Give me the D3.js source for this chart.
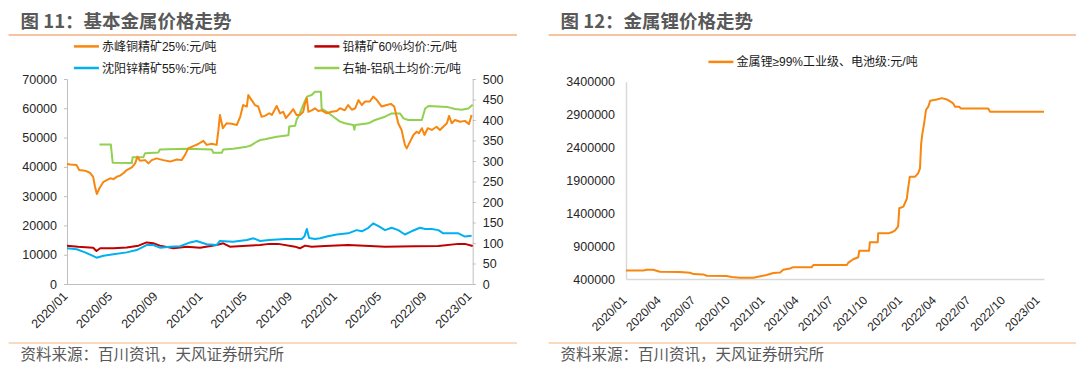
<!DOCTYPE html>
<html><head><meta charset="utf-8">
<script src="https://cdn.jsdelivr.net/npm/d3@7"></script>
<style>
html,body{margin:0;padding:0;background:#fff;}
svg{display:block;}
</style></head>
<body>
<svg id="c" width="1080" height="371"></svg>
<script>
// ---------------- DATA ----------------
const titleLeft = "图 11：基本金属价格走势";
const titleRight = "图 12：金属锂价格走势";
const sourceText = "资料来源：百川资讯，天风证券研究所";

const seriesNames = ["赤峰铜精矿25%:元/吨", "铅精矿60%均价:元/吨", "沈阳锌精矿55%:元/吨", "右轴-铝矾土均价:元/吨"];
const lithiumName = "金属锂≥99%工业级、电池级:元/吨";

const leftTicks = [0,10000,20000,30000,40000,50000,60000,70000];
const rightTicks = [0,50,100,150,200,250,300,350,400,450,500];
const lithiumTicks = [400000,900000,1400000,1900000,2400000,2900000,3400000];
const xTicksLeft = ["2020-01-01","2020-05-01","2020-09-01","2021-01-01","2021-05-01","2021-09-01","2022-01-01","2022-05-01","2022-09-01","2023-01-01"];
const xTicksRight = ["2020-01-01","2020-04-01","2020-07-01","2020-10-01","2021-01-01","2021-04-01","2021-07-01","2021-10-01","2022-01-01","2022-04-01","2022-07-01","2022-10-01","2023-01-01"];

const copper = [
["2020-01-01",41000],["2020-01-10",40800],["2020-01-27",40600],["2020-02-03",38900],["2020-02-19",38700],
["2020-03-03",38000],["2020-03-12",36600],["2020-03-17",33200],["2020-03-22",30700],["2020-03-29",32700],
["2020-04-09",34900],["2020-04-18",35500],["2020-04-27",36100],["2020-05-06",35800],["2020-05-15",36600],
["2020-05-24",37000],["2020-06-02",37800],["2020-06-11",38900],["2020-06-25",39800],["2020-07-04",41200],
["2020-07-10",43500],["2020-07-17",42100],["2020-07-31",42300],["2020-08-09",41200],["2020-08-18",42300],
["2020-08-31",42900],["2020-09-18",42300],["2020-10-07",41800],["2020-10-25",42500],["2020-11-07",42300],
["2020-11-16",44000],["2020-11-25",46300],["2020-12-09",47100],["2020-12-22",47800],["2021-01-05",48900],
["2021-01-14",47500],["2021-01-28",47900],["2021-02-10",47500],["2021-02-15",52600],["2021-02-19",57700],
["2021-02-27",53200],["2021-03-09",54900],["2021-03-23",54700],["2021-04-06",54300],["2021-04-15",57100],
["2021-04-23",61100],["2021-05-03",60600],["2021-05-07",64500],["2021-05-16",62800],["2021-05-25",61100],
["2021-06-03",60600],["2021-06-12",57100],["2021-06-21",57400],["2021-07-03",58300],["2021-07-10",57700],
["2021-07-23",60800],["2021-08-01",58300],["2021-08-10",58800],["2021-08-17",56600],["2021-08-28",58300],
["2021-09-06",59700],["2021-09-15",57700],["2021-09-24",57700],["2021-10-03",58800],["2021-10-08",61700],
["2021-10-13",63400],["2021-10-17",58800],["2021-10-26",59300],["2021-11-04",60000],["2021-11-13",59100],
["2021-11-22",59300],["2021-12-06",58300],["2021-12-19",58800],["2022-01-02",59100],["2022-01-11",60000],
["2022-01-24",59300],["2022-02-02",61100],["2022-02-12",59500],["2022-02-21",60000],["2022-03-02",62800],
["2022-03-11",61100],["2022-03-20",62300],["2022-04-02",62300],["2022-04-11",64000],["2022-04-21",62800],
["2022-05-04",60600],["2022-05-18",61100],["2022-05-29",61500],["2022-06-07",60600],["2022-06-18",54900],
["2022-06-27",52600],["2022-07-06",47500],["2022-07-11",46300],["2022-07-20",48600],["2022-07-29",50900],
["2022-08-07",52000],["2022-08-13",51500],["2022-08-21",53200],["2022-08-28",50900],["2022-09-06",53200],
["2022-09-17",52600],["2022-09-30",53700],["2022-10-09",52600],["2022-10-18",53700],["2022-10-28",54900],
["2022-11-03",57400],["2022-11-10",54900],["2022-11-19",56000],["2022-12-03",55400],["2022-12-16",55700],
["2022-12-27",54600],["2023-01-03",57700]
];

const lead = [
["2020-01-01",13100],["2020-01-31",12750],["2020-03-12",12400],["2020-03-21",11270],["2020-03-31",12200],
["2020-05-06",12200],["2020-06-11",12500],["2020-07-13",13100],["2020-08-04",14200],["2020-08-22",13900],
["2020-09-09",13100],["2020-10-16",12200],["2020-11-21",12750],["2020-12-27",12400],["2021-02-10",13300],
["2021-02-28",13900],["2021-03-18",12750],["2021-05-03",13100],["2021-06-08",13300],["2021-07-03",13700],
["2021-07-27",13700],["2021-09-11",12750],["2021-09-24",12200],["2021-10-08",13100],["2021-10-26",12750],
["2021-12-01",13000],["2022-02-02",13300],["2022-04-02",13000],["2022-05-13",12750],["2022-08-02",12900],
["2022-10-05",13000],["2022-11-28",13700],["2022-12-16",13700],["2023-01-06",12950]
];

const zinc = [
["2020-01-01",12190],["2020-01-27",11850],["2020-02-19",10800],["2020-03-10",9670],["2020-03-21",8990],
["2020-04-09",9670],["2020-05-06",10130],["2020-06-11",10800],["2020-07-08",11600],["2020-08-04",13300],
["2020-08-22",13300],["2020-09-09",12400],["2020-10-07",12750],["2020-11-03",12900],["2020-11-30",14200],
["2020-12-18",14700],["2021-01-14",13550],["2021-02-10",13300],["2021-02-19",14700],["2021-03-27",14400],
["2021-05-03",15000],["2021-05-21",15600],["2021-06-08",14700],["2021-07-03",15000],["2021-08-15",15400],
["2021-09-29",15400],["2021-10-06",16200],["2021-10-13",18800],["2021-10-19",15700],["2021-11-04",15400],
["2021-11-18",15600],["2021-12-06",16200],["2022-01-02",16900],["2022-02-02",17300],["2022-02-25",18400],
["2022-03-11",18000],["2022-03-29",19200],["2022-04-11",20700],["2022-04-29",19500],["2022-05-13",18400],
["2022-05-31",19200],["2022-06-18",18400],["2022-07-06",16900],["2022-07-24",18000],["2022-08-16",19200],
["2022-08-30",18800],["2022-09-17",18800],["2022-10-05",18400],["2022-10-18",17300],["2022-11-10",17300],
["2022-11-28",17300],["2022-12-16",16200],["2023-01-03",16500]
];

const bauxite = [
["2020-03-29",340],["2020-04-29",340],["2020-05-04",296],["2020-06-25",295],["2020-06-27",309],
["2020-07-26",309],["2020-07-31",319],["2020-09-05",321],["2020-09-09",328],["2020-11-21",330],
["2021-01-28",328],["2021-02-01",320],["2021-02-24",320],["2021-02-28",328],["2021-03-27",330],
["2021-05-03",335],["2021-05-12",337],["2021-05-30",347],["2021-06-08",351],["2021-06-21",353],
["2021-07-23",359],["2021-08-24",363],["2021-08-26",384],["2021-09-11",386],["2021-09-15",400],
["2021-09-24",416],["2021-10-03",437],["2021-10-13",457],["2021-10-26",461],["2021-11-04",469],
["2021-11-20",469],["2021-11-22",428],["2021-12-06",420],["2021-12-24",408],["2022-01-11",396],
["2022-01-24",392],["2022-02-16",388],["2022-02-19",376],["2022-02-21",388],["2022-03-29",392],
["2022-04-16",400],["2022-05-13",408],["2022-05-31",416],["2022-06-23",416],["2022-07-02",404],
["2022-07-15",400],["2022-08-21",400],["2022-08-30",428],["2022-09-08",434],["2022-10-28",432],
["2022-11-19",427],["2022-12-07",425],["2022-12-25",428],["2023-01-06",437]
];

const lithium = [
["2020-01-01",530000],["2020-02-16",530000],["2020-02-25",540000],["2020-03-13",540000],["2020-03-31",510000],
["2020-05-23",505000],["2020-06-19",495000],["2020-06-28",475000],["2020-07-24",470000],["2020-08-02",450000],
["2020-09-24",445000],["2020-10-07",430000],["2020-10-29",420000],["2020-12-04",420000],["2020-12-13",430000],
["2021-01-08",460000],["2021-01-26",490000],["2021-02-13",500000],["2021-02-21",540000],["2021-03-11",560000],
["2021-03-20",580000],["2021-05-08",580000],["2021-05-12",613000],["2021-08-09",613000],["2021-08-13",650000],
["2021-08-26",700000],["2021-09-08",730000],["2021-09-11",830000],["2021-10-07",830000],["2021-10-09",958000],
["2021-10-30",958000],["2021-10-31",1094000],["2021-11-27",1094000],["2021-12-06",1110000],["2021-12-15",1140000],
["2021-12-23",1200000],["2021-12-26",1475000],["2022-01-06",1500000],["2022-01-15",1620000],["2022-01-19",1800000],
["2022-01-23",1956000],["2022-02-06",1956000],["2022-02-14",2006000],["2022-02-19",2083000],["2022-02-22",2450000],
["2022-02-25",2600000],["2022-03-02",2767000],["2022-03-07",2970000],["2022-03-13",3020000],["2022-03-18",3110000],
["2022-04-04",3130000],["2022-04-18",3150000],["2022-05-01",3130000],["2022-05-10",3100000],["2022-05-18",3070000],
["2022-05-23",3020000],["2022-06-03",3020000],["2022-06-07",2993000],["2022-08-19",2993000],["2022-08-24",2944000],
["2023-01-14",2944000]
];

// ---------------- DRAW ----------------
const parse = d3.timeParse("%Y-%m-%d");
const fmt = d3.timeFormat("%Y/%m");
const svg = d3.select("#c");
const CJK = "'Noto Sans CJK SC', sans-serif";
const NUM = "'Liberation Sans', 'Noto Sans CJK SC', sans-serif";
const C = {copper:"#F7870F", lead:"#C00000", zinc:"#00B0F0", bauxite:"#92D050", li:"#F7870F"};

svg.append("rect").attr("width",1080).attr("height",371).attr("fill","#fff");

function frame(x0, x1, title){
  svg.append("text").attr("x", x0+12).attr("y", 27.5).text(title)
    .attr("font-family", CJK).attr("font-size", 18.5).attr("font-weight", 700).attr("fill", "#595959");
  svg.append("line").attr("x1", x0).attr("x2", x1).attr("y1", 35).attr("y2", 35)
    .attr("stroke", "#F4B183").attr("stroke-width", 1.5);
  svg.append("line").attr("x1", x0).attr("x2", x1).attr("y1", 343).attr("y2", 343)
    .attr("stroke", "#FBD9BD").attr("stroke-width", 2);
  svg.append("text").attr("x", x0+12).attr("y", 360).text(sourceText)
    .attr("font-family", CJK).attr("font-size", 15.5).attr("fill", "#595959");
}
frame(8.6, 517, titleLeft);
frame(548.6, 1076, titleRight);

function legendItem(x, y, color, label){
  svg.append("line").attr("x1", x).attr("x2", x+25).attr("y1", y).attr("y2", y)
    .attr("stroke", color).attr("stroke-width", 2.5);
  svg.append("text").attr("x", x+28).attr("y", y+4.5).text(label)
    .attr("font-family", NUM).attr("font-size", 12).attr("fill", "#1a1a1a");
}

function styleAxis(g, color){
  g.select(".domain").attr("stroke", color).attr("stroke-width", 1);
  g.selectAll(".tick line").attr("stroke", color);
  g.selectAll("text").attr("font-family", NUM).attr("font-size", 12.5).attr("fill", "#262626");
}

// ===== Left chart =====
(function(){
  const x = d3.scaleTime().domain([parse("2020-01-01"), parse("2023-01-06")]).range([67, 472.7]);
  const yL = d3.scaleLinear().domain([0,70000]).range([284, 79]);
  const yR = d3.scaleLinear().domain([0,500]).range([284, 79]);

  const gl = svg.append("g").attr("transform","translate(67,0)")
    .call(d3.axisLeft(yL).tickValues(leftTicks).tickSize(3).tickPadding(7).tickFormat(d3.format("d")));
  styleAxis(gl, "#BFBFBF");
  const gr = svg.append("g").attr("transform","translate(472.7,0)")
    .call(d3.axisRight(yR).tickValues(rightTicks).tickSize(3).tickPadding(7).tickFormat(d3.format("d")));
  styleAxis(gr, "#BFBFBF");
  const gb = svg.append("g").attr("transform","translate(0,284)")
    .call(d3.axisBottom(x).tickValues(xTicksLeft.map(parse)).tickSize(0).tickFormat(fmt));
  styleAxis(gb, "#BFBFBF");
  gb.selectAll(".tick text").attr("x",0).attr("y",0).attr("dy",null)
    .attr("text-anchor","end").attr("transform","translate(1,13) rotate(-45)");

  const lineL = d3.line().x(d=>x(parse(d[0]))).y(d=>yL(d[1]));
  const lineR = d3.line().x(d=>x(parse(d[0]))).y(d=>yR(d[1]));
  const draw = (data, gen, color) => svg.append("path").datum(data).attr("d", gen)
    .attr("fill","none").attr("stroke", color).attr("stroke-width", 2).attr("stroke-linejoin","round");
  draw(bauxite, lineR, C.bauxite);
  draw(lead, lineL, C.lead);
  draw(zinc, lineL, C.zinc);
  draw(copper, lineL, C.copper);

  legendItem(73.9, 46.4, C.copper, seriesNames[0]);
  legendItem(314.4, 46.4, C.lead, seriesNames[1]);
  legendItem(73.9, 68, C.zinc, seriesNames[2]);
  legendItem(314.4, 68, C.bauxite, seriesNames[3]);
})();

// ===== Right chart =====
(function(){
  const x = d3.scaleTime().domain([parse("2020-01-01"), parse("2023-01-14")]).range([626, 1044]);
  const y = d3.scaleLinear().domain([400000, 3400000]).range([279, 81.7]);

  const gl = svg.append("g").attr("transform","translate(626,0)")
    .call(d3.axisLeft(y).tickValues(lithiumTicks).tickSize(0).tickPadding(11).tickFormat(d3.format("d")));
  styleAxis(gl, "#D9D9D9");
  gl.select(".domain").attr("stroke-width", 1.5);
  const gb = svg.append("g").attr("transform","translate(0,279)")
    .call(d3.axisBottom(x).tickValues(xTicksRight.map(parse)).tickSize(0).tickFormat(fmt));
  styleAxis(gb, "#D9D9D9");
  gb.select(".domain").attr("stroke-width", 1.5);
  gb.selectAll(".tick text").attr("x",0).attr("y",0).attr("dy",null).attr("font-size",12)
    .attr("text-anchor","end").attr("transform","translate(1,22) rotate(-45)");

  const line = d3.line().x(d=>x(parse(d[0]))).y(d=>y(d[1]));
  svg.append("path").datum(lithium).attr("d", line)
    .attr("fill","none").attr("stroke", C.li).attr("stroke-width", 2).attr("stroke-linejoin","round");

  legendItem(708.4, 61.9, C.li, lithiumName);
})();
</script>
</body></html>
